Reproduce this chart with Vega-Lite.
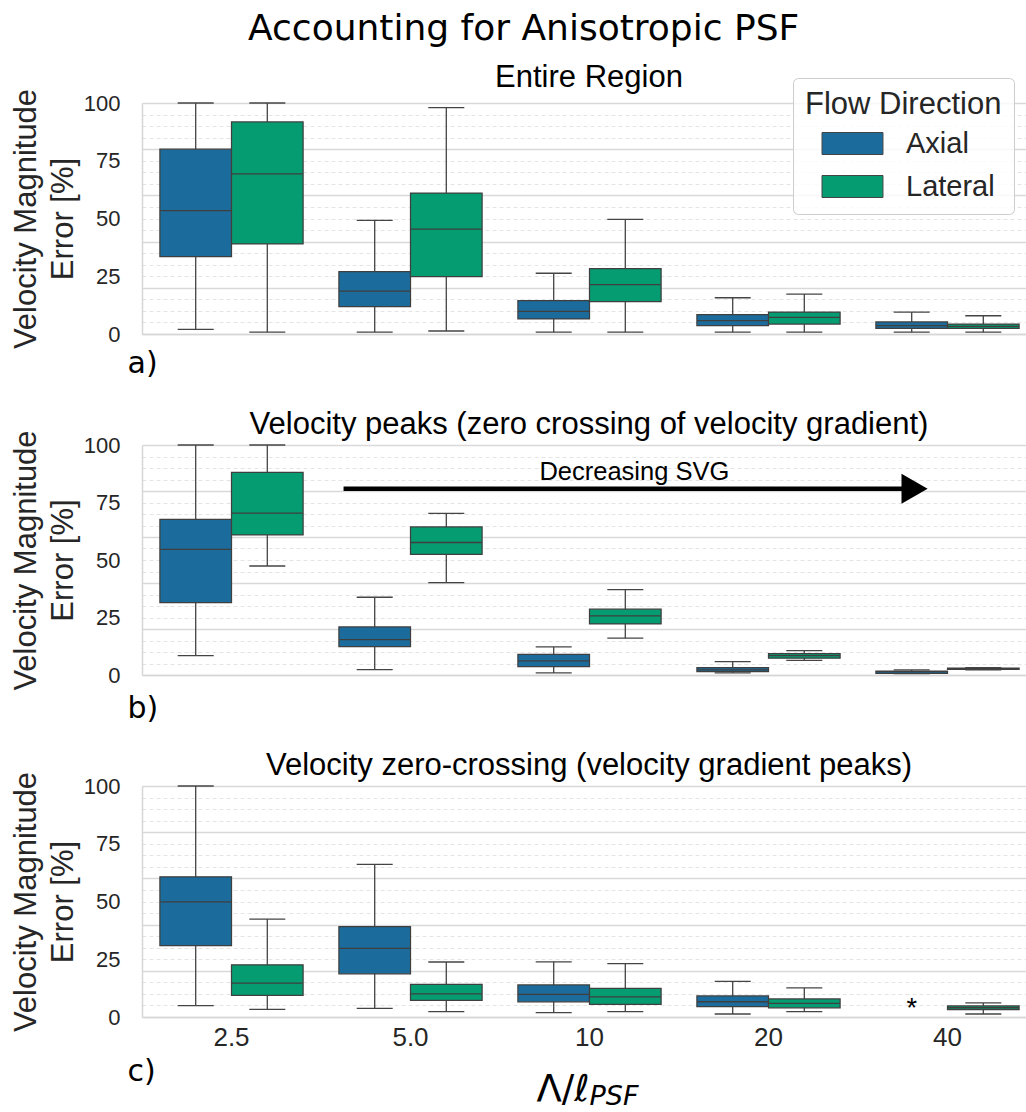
{
  "$schema": "https://vega.github.io/schema/vega-lite/v6.json",
  "padding": {"left": 10, "top": 10, "right": 0, "bottom": 0},
  "title": {"text": "Accounting for Anisotropic PSF", "font": "DejaVu Sans", "fontSize": 36, "fontWeight": "normal", "color": "#000000", "anchor": "middle", "offset": 14},
  "datasets": {
    "boxA": [
      {"lam": "2.5", "dir": "Axial", "lo": 2, "q1": 33.5, "med": 53.4, "q3": 80, "hi": 100},
      {"lam": "2.5", "dir": "Lateral", "lo": 0.8, "q1": 39, "med": 69.3, "q3": 91.8, "hi": 100},
      {"lam": "5.0", "dir": "Axial", "lo": 0.8, "q1": 11.8, "med": 18.6, "q3": 27, "hi": 49.2},
      {"lam": "5.0", "dir": "Lateral", "lo": 1.3, "q1": 24.8, "med": 45.4, "q3": 61, "hi": 98},
      {"lam": "10", "dir": "Axial", "lo": 0.8, "q1": 6.5, "med": 9.8, "q3": 14.4, "hi": 26.3},
      {"lam": "10", "dir": "Lateral", "lo": 0.8, "q1": 14, "med": 21.4, "q3": 28.3, "hi": 49.6},
      {"lam": "20", "dir": "Axial", "lo": 0.8, "q1": 3.6, "med": 5.8, "q3": 8.4, "hi": 15.7},
      {"lam": "20", "dir": "Lateral", "lo": 0.8, "q1": 4.3, "med": 7.2, "q3": 9.5, "hi": 17.3},
      {"lam": "40", "dir": "Axial", "lo": 0.8, "q1": 2.4, "med": 3.6, "q3": 5.2, "hi": 9.5},
      {"lam": "40", "dir": "Lateral", "lo": 0.8, "q1": 2.4, "med": 3.3, "q3": 4.3, "hi": 7.9}
    ],
    "boxB": [
      {"lam": "2.5", "dir": "Axial", "lo": 8.4, "q1": 31.5, "med": 54.6, "q3": 67.7, "hi": 100},
      {"lam": "2.5", "dir": "Lateral", "lo": 47.4, "q1": 60.9, "med": 70.4, "q3": 88.1, "hi": 100},
      {"lam": "5.0", "dir": "Axial", "lo": 2.3, "q1": 12.3, "med": 15.4, "q3": 20.9, "hi": 33.8},
      {"lam": "5.0", "dir": "Lateral", "lo": 40.2, "q1": 52.5, "med": 57.6, "q3": 64.4, "hi": 70.3},
      {"lam": "10", "dir": "Axial", "lo": 0.9, "q1": 3.6, "med": 6.1, "q3": 9.0, "hi": 12.2},
      {"lam": "10", "dir": "Lateral", "lo": 16.0, "q1": 22.2, "med": 25.7, "q3": 28.6, "hi": 37.1},
      {"lam": "20", "dir": "Axial", "lo": 0.9, "q1": 1.5, "med": 2.2, "q3": 3.2, "hi": 5.8},
      {"lam": "20", "dir": "Lateral", "lo": 6.4, "q1": 7.3, "med": 8.4, "q3": 9.3, "hi": 10.6},
      {"lam": "40", "dir": "Axial", "lo": 0.6, "q1": 0.7, "med": 1.5, "q3": 1.7, "hi": 2.2},
      {"lam": "40", "dir": "Lateral", "lo": 2.2, "q1": 2.5, "med": 2.8, "q3": 3.0, "hi": 3.2}
    ],
    "boxC": [
      {"lam": "2.5", "dir": "Axial", "lo": 4.9, "q1": 30.9, "med": 49.8, "q3": 60.7, "hi": 100},
      {"lam": "2.5", "dir": "Lateral", "lo": 3.3, "q1": 9.4, "med": 14.7, "q3": 22.6, "hi": 42.4},
      {"lam": "5.0", "dir": "Axial", "lo": 3.7, "q1": 18.7, "med": 29.7, "q3": 39.1, "hi": 66.1},
      {"lam": "5.0", "dir": "Lateral", "lo": 2.3, "q1": 7.2, "med": 10.0, "q3": 14.1, "hi": 23.8},
      {"lam": "10", "dir": "Axial", "lo": 1.9, "q1": 6.6, "med": 9.8, "q3": 13.9, "hi": 23.9},
      {"lam": "10", "dir": "Lateral", "lo": 2.3, "q1": 5.5, "med": 8.7, "q3": 12.4, "hi": 23.1},
      {"lam": "20", "dir": "Axial", "lo": 1.3, "q1": 4.5, "med": 6.6, "q3": 9.1, "hi": 15.4},
      {"lam": "20", "dir": "Lateral", "lo": 2.3, "q1": 4.0, "med": 5.9, "q3": 7.8, "hi": 12.6},
      {"lam": "40", "dir": "Lateral", "lo": 1.3, "q1": 3.2, "med": 4.0, "q3": 4.8, "hi": 6.1}
    ]
  },
  "bounds": "flush",
  "spacing": 111,
  "vconcat": [
    {
      "width": 884, "height": 231,
      "title": {"text": "Entire Region", "frame": "group", "dx": 5, "offset": -16},
      "data": {"name": "boxA"},
      "layer": [
        {
          "mark": {"type": "rule", "color": "#444444", "strokeWidth": 1.3},
          "encoding": {
            "x": {"field": "lam", "type": "ordinal", "scale": {"domain": ["2.5", "5.0", "10", "20", "40"], "range": [0, 895], "paddingInner": 0, "paddingOuter": 0},
                  "axis": {"labels": false, "title": "a)", "titleFont": "DejaVu Sans", "titleFontSize": 30, "titleColor": "#000000", "titleAnchor": "start", "titleAlign": "left", "titleBaseline": "alphabetic", "titleX": -15, "titleY": 38}},
            "xOffset": {"field": "dir", "type": "nominal", "scale": {"domain": ["Axial", "Lateral"], "paddingInner": 0, "paddingOuter": 0.25}},
            "y": {"field": "lo", "type": "quantitative", "scale": {"domain": [0, 100], "nice": false},
                  "axis": {"title": ["Velocity Magnitude", "Error [%]"], "values": [0, 5, 10, 15, 20, 25, 30, 35, 40, 45, 50, 55, 60, 65, 70, 75, 80, 85, 90, 95, 100], "labelExpr": "datum.value % 25 === 0 ? datum.label : ''"}},
            "y2": {"field": "hi"}
          }
        },
        {
          "mark": {"type": "bar", "stroke": "#3f3f3f", "strokeWidth": 1.25},
          "encoding": {
            "x": {"field": "lam", "type": "ordinal"},
            "xOffset": {"field": "dir", "type": "nominal"},
            "y": {"field": "q1", "type": "quantitative", "axis": {"title": ["Velocity Magnitude", "Error [%]"], "values": [0, 5, 10, 15, 20, 25, 30, 35, 40, 45, 50, 55, 60, 65, 70, 75, 80, 85, 90, 95, 100], "labelExpr": "datum.value % 25 === 0 ? datum.label : ''"}},
            "y2": {"field": "q3"},
            "color": {"field": "dir", "type": "nominal", "scale": {"domain": ["Axial", "Lateral"], "range": ["#1b6c9c", "#069c72"]},
                      "legend": {"title": "Flow Direction", "orient": "none", "legendX": 651, "legendY": -25}}
          }
        },
        {
          "mark": {"type": "tick", "color": "#3f3f3f", "size": 71, "thickness": 1.3, "opacity": 1},
          "encoding": {
            "x": {"field": "lam", "type": "ordinal"},
            "xOffset": {"field": "dir", "type": "nominal"},
            "y": {"field": "med", "type": "quantitative", "axis": {"title": ["Velocity Magnitude", "Error [%]"], "values": [0, 5, 10, 15, 20, 25, 30, 35, 40, 45, 50, 55, 60, 65, 70, 75, 80, 85, 90, 95, 100], "labelExpr": "datum.value % 25 === 0 ? datum.label : ''"}}
          }
        },
        {
          "mark": {"type": "tick", "color": "#444444", "size": 36, "thickness": 1.3, "opacity": 1},
          "encoding": {
            "x": {"field": "lam", "type": "ordinal"},
            "xOffset": {"field": "dir", "type": "nominal"},
            "y": {"field": "lo", "type": "quantitative", "axis": {"title": ["Velocity Magnitude", "Error [%]"], "values": [0, 5, 10, 15, 20, 25, 30, 35, 40, 45, 50, 55, 60, 65, 70, 75, 80, 85, 90, 95, 100], "labelExpr": "datum.value % 25 === 0 ? datum.label : ''"}}
          }
        },
        {
          "mark": {"type": "tick", "color": "#444444", "size": 36, "thickness": 1.3, "opacity": 1},
          "encoding": {
            "x": {"field": "lam", "type": "ordinal"},
            "xOffset": {"field": "dir", "type": "nominal"},
            "y": {"field": "hi", "type": "quantitative", "axis": {"title": ["Velocity Magnitude", "Error [%]"], "values": [0, 5, 10, 15, 20, 25, 30, 35, 40, 45, 50, 55, 60, 65, 70, 75, 80, 85, 90, 95, 100], "labelExpr": "datum.value % 25 === 0 ? datum.label : ''"}}
          }
        }
      ]
    },
    {
      "width": 884, "height": 230,
      "title": {"text": "Velocity peaks (zero crossing of velocity gradient)", "frame": "group", "dx": 5, "offset": -11},
      "layer": [
        {
          "data": {"name": "boxB"},
          "mark": {"type": "rule", "color": "#444444", "strokeWidth": 1.3},
          "encoding": {
            "x": {"field": "lam", "type": "ordinal", "scale": {"domain": ["2.5", "5.0", "10", "20", "40"], "range": [0, 895], "paddingInner": 0, "paddingOuter": 0},
                  "axis": {"labels": false, "title": "b)", "titleFont": "DejaVu Sans", "titleFontSize": 30, "titleColor": "#000000", "titleAnchor": "start", "titleAlign": "left", "titleBaseline": "alphabetic", "titleX": -15, "titleY": 42}},
            "xOffset": {"field": "dir", "type": "nominal", "scale": {"domain": ["Axial", "Lateral"], "paddingInner": 0, "paddingOuter": 0.25}},
            "y": {"field": "lo", "type": "quantitative", "scale": {"domain": [0, 100], "nice": false},
                  "axis": {"title": ["Velocity Magnitude", "Error [%]"], "values": [0, 5, 10, 15, 20, 25, 30, 35, 40, 45, 50, 55, 60, 65, 70, 75, 80, 85, 90, 95, 100], "labelExpr": "datum.value % 25 === 0 ? datum.label : ''"}},
            "y2": {"field": "hi"}
          }
        },
        {
          "data": {"name": "boxB"},
          "mark": {"type": "bar", "stroke": "#3f3f3f", "strokeWidth": 1.25},
          "encoding": {
            "x": {"field": "lam", "type": "ordinal"},
            "xOffset": {"field": "dir", "type": "nominal"},
            "y": {"field": "q1", "type": "quantitative", "axis": {"title": ["Velocity Magnitude", "Error [%]"], "values": [0, 5, 10, 15, 20, 25, 30, 35, 40, 45, 50, 55, 60, 65, 70, 75, 80, 85, 90, 95, 100], "labelExpr": "datum.value % 25 === 0 ? datum.label : ''"}},
            "y2": {"field": "q3"},
            "color": {"field": "dir", "type": "nominal", "scale": {"domain": ["Axial", "Lateral"], "range": ["#1b6c9c", "#069c72"]}, "legend": null}
          }
        },
        {
          "data": {"name": "boxB"},
          "mark": {"type": "tick", "color": "#3f3f3f", "size": 71, "thickness": 1.3, "opacity": 1},
          "encoding": {
            "x": {"field": "lam", "type": "ordinal"},
            "xOffset": {"field": "dir", "type": "nominal"},
            "y": {"field": "med", "type": "quantitative", "axis": {"title": ["Velocity Magnitude", "Error [%]"], "values": [0, 5, 10, 15, 20, 25, 30, 35, 40, 45, 50, 55, 60, 65, 70, 75, 80, 85, 90, 95, 100], "labelExpr": "datum.value % 25 === 0 ? datum.label : ''"}}
          }
        },
        {
          "data": {"name": "boxB"},
          "mark": {"type": "tick", "color": "#444444", "size": 36, "thickness": 1.3, "opacity": 1},
          "encoding": {
            "x": {"field": "lam", "type": "ordinal"},
            "xOffset": {"field": "dir", "type": "nominal"},
            "y": {"field": "lo", "type": "quantitative", "axis": {"title": ["Velocity Magnitude", "Error [%]"], "values": [0, 5, 10, 15, 20, 25, 30, 35, 40, 45, 50, 55, 60, 65, 70, 75, 80, 85, 90, 95, 100], "labelExpr": "datum.value % 25 === 0 ? datum.label : ''"}}
          }
        },
        {
          "data": {"name": "boxB"},
          "mark": {"type": "tick", "color": "#444444", "size": 36, "thickness": 1.3, "opacity": 1},
          "encoding": {
            "x": {"field": "lam", "type": "ordinal"},
            "xOffset": {"field": "dir", "type": "nominal"},
            "y": {"field": "hi", "type": "quantitative", "axis": {"title": ["Velocity Magnitude", "Error [%]"], "values": [0, 5, 10, 15, 20, 25, 30, 35, 40, 45, 50, 55, 60, 65, 70, 75, 80, 85, 90, 95, 100], "labelExpr": "datum.value % 25 === 0 ? datum.label : ''"}}
          }
        },
        {
          "data": {"values": [{"what": "arrow"}]},
          "mark": {"type": "rule", "color": "#000000", "strokeWidth": 4.5},
          "encoding": {
            "x": {"datum": "5.0", "type": "ordinal", "bandPosition": 0.126},
            "x2": {"datum": "40", "bandPosition": 0.26},
            "y": {"datum": 81, "type": "quantitative", "axis": {"title": ["Velocity Magnitude", "Error [%]"], "values": [0, 5, 10, 15, 20, 25, 30, 35, 40, 45, 50, 55, 60, 65, 70, 75, 80, 85, 90, 95, 100], "labelExpr": "datum.value % 25 === 0 ? datum.label : ''"}}
          }
        },
        {
          "data": {"values": [{"what": "arrowhead"}]},
          "mark": {"type": "point", "shape": "M-0.87,-1L0.87,0L-0.87,1Z", "size": 900, "filled": true, "color": "#000000", "opacity": 1},
          "encoding": {
            "x": {"datum": "40", "type": "ordinal", "bandPosition": 0.316},
            "y": {"datum": 81, "type": "quantitative", "axis": {"title": ["Velocity Magnitude", "Error [%]"], "values": [0, 5, 10, 15, 20, 25, 30, 35, 40, 45, 50, 55, 60, 65, 70, 75, 80, 85, 90, 95, 100], "labelExpr": "datum.value % 25 === 0 ? datum.label : ''"}}
          }
        },
        {
          "data": {"values": [{"label": "Decreasing SVG"}]},
          "mark": {"type": "text", "font": "Liberation Sans", "fontSize": 25.5, "align": "left", "baseline": "alphabetic", "color": "#000000"},
          "encoding": {
            "text": {"field": "label"},
            "x": {"datum": "10", "type": "ordinal", "bandPosition": 0.22},
            "y": {"datum": 84.7, "type": "quantitative", "axis": {"title": ["Velocity Magnitude", "Error [%]"], "values": [0, 5, 10, 15, 20, 25, 30, 35, 40, 45, 50, 55, 60, 65, 70, 75, 80, 85, 90, 95, 100], "labelExpr": "datum.value % 25 === 0 ? datum.label : ''"}}
          }
        }
      ]
    },
    {
      "width": 884, "height": 231,
      "title": {"text": "Velocity zero-crossing (velocity gradient peaks)", "frame": "group", "dx": 5, "offset": -11},
      "layer": [
        {
          "data": {"name": "boxC"},
          "mark": {"type": "rule", "color": "#444444", "strokeWidth": 1.3},
          "encoding": {
            "x": {"field": "lam", "type": "ordinal", "scale": {"domain": ["2.5", "5.0", "10", "20", "40"], "range": [0, 895], "paddingInner": 0, "paddingOuter": 0},
                  "axis": {"labels": true, "labelAngle": 0, "labelFontSize": 26, "labelPadding": 7, "title": "c)", "titleFont": "DejaVu Sans", "titleFontSize": 30, "titleColor": "#000000", "titleAnchor": "start", "titleAlign": "left", "titleBaseline": "alphabetic", "titleX": -15, "titleY": 63}},
            "xOffset": {"field": "dir", "type": "nominal", "scale": {"domain": ["Axial", "Lateral"], "paddingInner": 0, "paddingOuter": 0.25}},
            "y": {"field": "lo", "type": "quantitative", "scale": {"domain": [0, 100], "nice": false},
                  "axis": {"title": ["Velocity Magnitude", "Error [%]"], "values": [0, 5, 10, 15, 20, 25, 30, 35, 40, 45, 50, 55, 60, 65, 70, 75, 80, 85, 90, 95, 100], "labelExpr": "datum.value % 25 === 0 ? datum.label : ''"}},
            "y2": {"field": "hi"}
          }
        },
        {
          "data": {"name": "boxC"},
          "mark": {"type": "bar", "stroke": "#3f3f3f", "strokeWidth": 1.25},
          "encoding": {
            "x": {"field": "lam", "type": "ordinal"},
            "xOffset": {"field": "dir", "type": "nominal"},
            "y": {"field": "q1", "type": "quantitative", "axis": {"title": ["Velocity Magnitude", "Error [%]"], "values": [0, 5, 10, 15, 20, 25, 30, 35, 40, 45, 50, 55, 60, 65, 70, 75, 80, 85, 90, 95, 100], "labelExpr": "datum.value % 25 === 0 ? datum.label : ''"}},
            "y2": {"field": "q3"},
            "color": {"field": "dir", "type": "nominal", "scale": {"domain": ["Axial", "Lateral"], "range": ["#1b6c9c", "#069c72"]}, "legend": null}
          }
        },
        {
          "data": {"name": "boxC"},
          "mark": {"type": "tick", "color": "#3f3f3f", "size": 71, "thickness": 1.3, "opacity": 1},
          "encoding": {
            "x": {"field": "lam", "type": "ordinal"},
            "xOffset": {"field": "dir", "type": "nominal"},
            "y": {"field": "med", "type": "quantitative", "axis": {"title": ["Velocity Magnitude", "Error [%]"], "values": [0, 5, 10, 15, 20, 25, 30, 35, 40, 45, 50, 55, 60, 65, 70, 75, 80, 85, 90, 95, 100], "labelExpr": "datum.value % 25 === 0 ? datum.label : ''"}}
          }
        },
        {
          "data": {"name": "boxC"},
          "mark": {"type": "tick", "color": "#444444", "size": 36, "thickness": 1.3, "opacity": 1},
          "encoding": {
            "x": {"field": "lam", "type": "ordinal"},
            "xOffset": {"field": "dir", "type": "nominal"},
            "y": {"field": "lo", "type": "quantitative", "axis": {"title": ["Velocity Magnitude", "Error [%]"], "values": [0, 5, 10, 15, 20, 25, 30, 35, 40, 45, 50, 55, 60, 65, 70, 75, 80, 85, 90, 95, 100], "labelExpr": "datum.value % 25 === 0 ? datum.label : ''"}}
          }
        },
        {
          "data": {"name": "boxC"},
          "mark": {"type": "tick", "color": "#444444", "size": 36, "thickness": 1.3, "opacity": 1},
          "encoding": {
            "x": {"field": "lam", "type": "ordinal"},
            "xOffset": {"field": "dir", "type": "nominal"},
            "y": {"field": "hi", "type": "quantitative", "axis": {"title": ["Velocity Magnitude", "Error [%]"], "values": [0, 5, 10, 15, 20, 25, 30, 35, 40, 45, 50, 55, 60, 65, 70, 75, 80, 85, 90, 95, 100], "labelExpr": "datum.value % 25 === 0 ? datum.label : ''"}}
          }
        },
        {
          "data": {"values": [{"lam": "40", "dir": "Axial", "note": "*"}]},
          "mark": {"type": "text", "font": "Liberation Sans", "fontSize": 27, "align": "center", "baseline": "alphabetic", "color": "#000000"},
          "encoding": {
            "text": {"field": "note"},
            "x": {"field": "lam", "type": "ordinal"},
            "xOffset": {"field": "dir", "type": "nominal"},
            "y": {"datum": 0, "type": "quantitative", "axis": {"title": ["Velocity Magnitude", "Error [%]"], "values": [0, 5, 10, 15, 20, 25, 30, 35, 40, 45, 50, 55, 60, 65, 70, 75, 80, 85, 90, 95, 100], "labelExpr": "datum.value % 25 === 0 ? datum.label : ''"}}
          }
        },
        {
          "data": {"values": [{"part": "Λ/ℓ"}]},
          "mark": {"type": "text", "font": "DejaVu Sans", "fontSize": 37, "align": "right", "baseline": "alphabetic", "color": "#000000"},
          "encoding": {
            "text": {"field": "part"},
            "x": {"datum": "10", "type": "ordinal"},
            "y": {"datum": -36.5, "type": "quantitative", "axis": {"title": ["Velocity Magnitude", "Error [%]"], "values": [0, 5, 10, 15, 20, 25, 30, 35, 40, 45, 50, 55, 60, 65, 70, 75, 80, 85, 90, 95, 100], "labelExpr": "datum.value % 25 === 0 ? datum.label : ''"}}
          }
        },
        {
          "data": {"values": [{"part": "PSF"}]},
          "mark": {"type": "text", "font": "DejaVu Sans", "fontStyle": "italic", "fontSize": 27, "align": "left", "baseline": "alphabetic", "color": "#000000"},
          "encoding": {
            "text": {"field": "part"},
            "x": {"datum": "10", "type": "ordinal"},
            "y": {"datum": -38.3, "type": "quantitative", "axis": {"title": ["Velocity Magnitude", "Error [%]"], "values": [0, 5, 10, 15, 20, 25, 30, 35, 40, 45, 50, 55, 60, 65, 70, 75, 80, 85, 90, 95, 100], "labelExpr": "datum.value % 25 === 0 ? datum.label : ''"}}
          }
        }
      ]
    }
  ],
  "resolve": {"scale": {"color": "independent"}},
  "config": {
    "view": {"stroke": null},
    "font": "Liberation Sans",
    "title": {"font": "Liberation Sans", "fontSize": 31, "fontWeight": "normal", "color": "#000000"},
    "axis": {"labelFont": "Liberation Sans", "titleFont": "Liberation Sans", "titleFontWeight": "normal", "labelColor": "#262626", "titleColor": "#262626", "ticks": false, "domainColor": "#d6d6d6", "domainWidth": 1.5},
    "axisX": {"grid": false},
    "axisY": {
      "labelOverlap": false, "labelBound": false, "labelFontSize": 22, "labelPadding": 22, "titleFontSize": 31, "titleLineHeight": 37, "titlePadding": 4, "grid": true,
      "gridColor": {"condition": {"test": "datum.value % 20 === 0", "value": "#d9d9d9"}, "value": "#e4e4e4"},
      "gridDash": {"condition": {"test": "datum.value % 20 === 0", "value": []}, "value": [4, 3]},
      "gridWidth": {"condition": {"test": "datum.value % 20 === 0", "value": 1.5}, "value": 1}
    },
    "legend": {
      "titleFont": "Liberation Sans", "labelFont": "Liberation Sans", "titleFontSize": 31, "labelFontSize": 29, "titleFontWeight": "normal", "titleColor": "#262626", "labelColor": "#262626", "titleLimit": 400, "labelLimit": 300,
      "symbolType": "M-2.77,-1L2.77,-1L2.77,1L-2.77,1Z", "symbolSize": 484, "symbolStrokeColor": "#444444", "symbolStrokeWidth": 1, "symbolOpacity": 1,
      "symbolOffset": 33, "labelOffset": 39, "padding": 12, "rowPadding": 13, "titlePadding": 8,
      "fillColor": "rgba(255,255,255,0.8)", "strokeColor": "#cccccc", "cornerRadius": 5
    }
  }
}
